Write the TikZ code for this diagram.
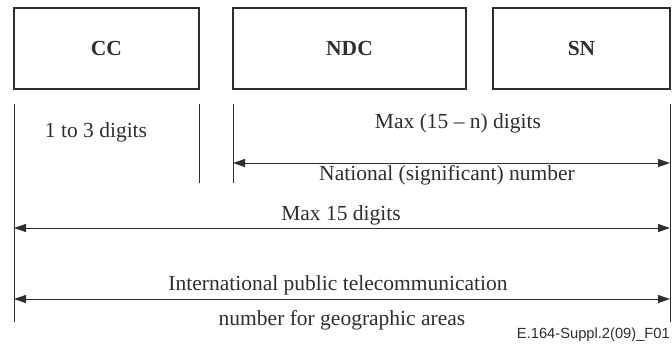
\documentclass[tikz,border=0pt]{standalone}
\usepackage{fontspec}
\setmainfont{Liberation Serif}
\newfontfamily\capfont{Liberation Sans}
\usetikzlibrary{arrows.meta}
\definecolor{ink}{HTML}{2E2E2E}
\begin{document}
\begin{tikzpicture}[x=1pt,y=-1pt,
  box/.style={draw=ink,line width=2pt,minimum height=81pt,inner sep=0pt,font=\fontsize{21.5}{24}\selectfont\bfseries,text=ink},
  lbl/.style={anchor=base,inner sep=0pt,font=\fontsize{21.5}{24}\selectfont,text=ink},
  tick/.style={draw=ink,line width=1pt},
  dim/.style={draw=ink,line width=1pt,{Triangle[length=12pt,width=8pt]}-{Triangle[length=12pt,width=8pt]}}]
\useasboundingbox (0,0) rectangle (672,349);
\node[box,minimum width=185pt] (cc) at (106.5,48.5) {CC};
\node[box,minimum width=233pt] (ndc) at (349.5,48.5) {NDC};
\node[box,minimum width=177pt] (sn) at (581.5,48.5) {SN};
% extension lines
\coordinate (l1t) at (14,104); \coordinate (l1b) at (14,322);
\coordinate (l2t) at (199,104); \coordinate (l2b) at (199,183);
\coordinate (l3t) at (233,104); \coordinate (l3b) at (233,183);
\coordinate (l4t) at (670,104); \coordinate (l4b) at (670,322);
\draw[tick] (l1t) -- (l1b);
\draw[tick] (l2t) -- (l2b);
\draw[tick] (l3t) -- (l3b);
\draw[tick] (l4t) -- (l4b);
% dimension arrows
\coordinate (na) at (233,163); \coordinate (nb) at (670,163);
\coordinate (ma) at (14,228); \coordinate (mb) at (670,228);
\coordinate (ia) at (14,299); \coordinate (ib) at (670,299);
\draw[dim] (na) -- (nb);
\draw[dim] (ma) -- (mb);
\draw[dim] (ia) -- (ib);
% labels
\node[lbl] (t1) at (96,137) {1 to 3 digits};
\node[lbl] (t2) at (458,128) {Max (15 – n) digits};
\node[lbl] (t3) at (447,180) {National (significant) number};
\node[lbl] (t4) at (341,220) {Max 15 digits};
\node[lbl] (t5) at (338,290) {International public telecommunication};
\node[lbl] (t6) at (342,325) {number for geographic areas};
\node[anchor=base east,inner sep=0pt,font=\capfont\fontsize{14.7}{16}\selectfont,text=ink] (fig) at (670,338) {E.164-Suppl.2(09)\_F01};
\end{tikzpicture}
\end{document}
